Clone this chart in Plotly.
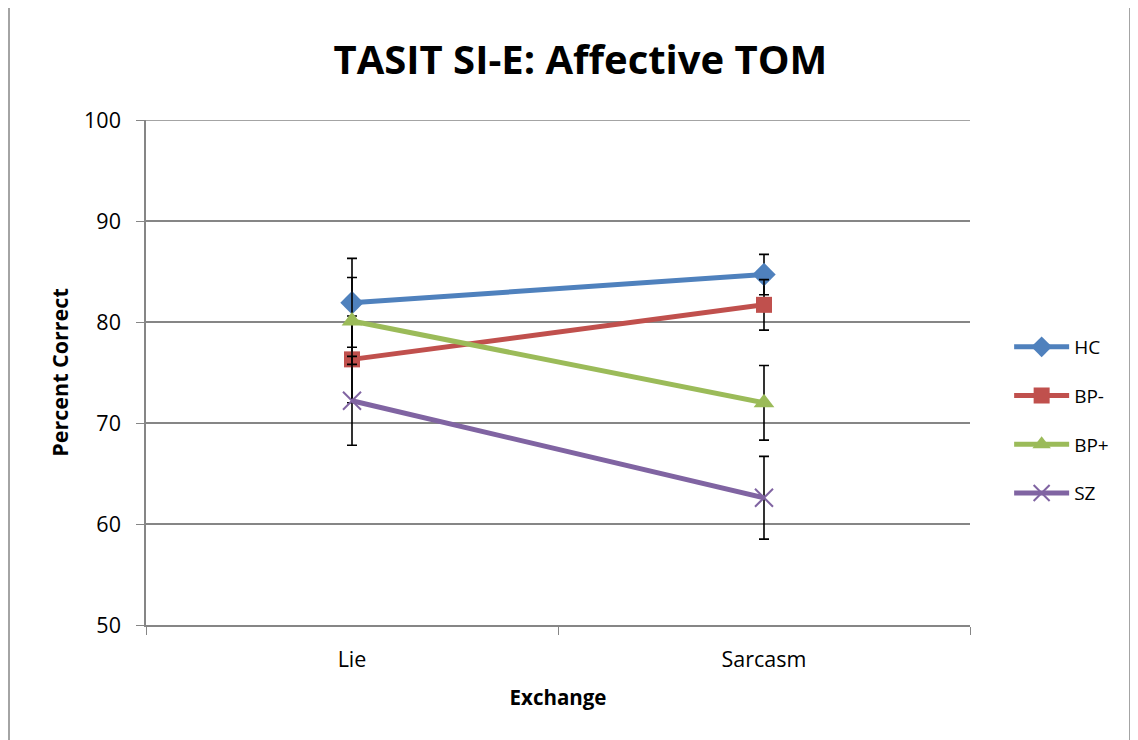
import plotly.graph_objects as go

categories = ["Lie", "Sarcasm"]
groups = ["HC", "BP-", "BP+", "SZ"]
hc = [81.9, 84.7]
bp_minus = [76.3, 81.7]
bp_plus = [80.1, 72.0]
sz = [72.2, 62.6]
hc_err = [4.4, 2.0]
bp_minus_err = [4.3, 2.5]
bp_plus_err = [4.3, 3.7]
sz_err = [4.4, 4.1]
y_ticks = [50, 60, 70, 80, 90, 100]

colors = ["#4F81BD", "#C0504D", "#9BBB59", "#8064A2"]
symbols = ["diamond", "square", "triangle-up", "x-thin"]
values = [hc, bp_minus, bp_plus, sz]
errors = [hc_err, bp_minus_err, bp_plus_err, sz_err]
sizes = [18, 16, 18, 18]

font = "Open Sans"
grid = "#868686"
fig = go.Figure()
for name, vals, errs, col, sym, sz_ in zip(groups, values, errors, colors, symbols, sizes):
    marker = dict(symbol=sym, size=sz_, color=col)
    if sym == "x-thin":
        marker["line"] = dict(color=col, width=2)
    fig.add_trace(go.Scatter(
        x=categories, y=vals, name=name, mode="lines+markers",
        legendgroup=name,
        line=dict(color=col, width=5),
        marker=marker,
        error_y=dict(type="data", array=errs, visible=True, color="black",
                     thickness=1.6, width=5),
    ))

fig.update_layout(
    width=1138, height=740,
    paper_bgcolor="white", plot_bgcolor="white",
    margin=dict(l=138, r=176, t=112, b=123, autoexpand=False),
    title=dict(text="<b>TASIT SI-E: Affective TOM</b>", x=0.503, xanchor="center",
               y=0.93, yanchor="middle", font=dict(family=font, size=40, color="black")),
    font=dict(family=font, color="black"),
    legend=dict(x=1.0475, xanchor="left", y=0.406, yanchor="middle",
                font=dict(family=font, size=19, color="black"),
                itemwidth=55, tracegroupgap=21, bgcolor="rgba(0,0,0,0)"),
    showlegend=True,
)
fig.update_xaxes(
    type="category", range=[-0.5, len(categories) - 0.5], tickson="boundaries",
    ticks="outside", ticklen=8, ticklabelstandoff=14,
    tickcolor=grid, showline=True, linecolor=grid, linewidth=1.5,
    showgrid=False, tickfont=dict(family=font, size=21.5, color="black"),
    title=dict(text="<b>Exchange</b>", font=dict(family=font, size=20.5, color="black"), standoff=19),
)
fig.update_yaxes(
    range=[50, 100], tickvals=y_ticks, ticks="outside", ticklen=8, ticklabelstandoff=11,
    tickcolor=grid, showline=True, linecolor=grid, linewidth=1.5,
    showgrid=True, gridcolor=grid, gridwidth=1.5, zeroline=False,
    tickfont=dict(family=font, size=21.5, color="black"),
    title=dict(text="<b>Percent Correct</b>", font=dict(family=font, size=21.5, color="black"), standoff=10),
)
# top gridline (Plotly skips a gridline on the range edge)
fig.add_shape(type="line", xref="paper", yref="y", x0=0, x1=1, y0=y_ticks[-1], y1=y_ticks[-1],
              line=dict(color=grid, width=1.5), layer="below")
# chart-area frame
fig.add_shape(type="rect", xref="paper", yref="paper",
              x0=-137/824, x1=(1130-146)/824, y0=-0.3, y1=1.5,
              line=dict(color=grid, width=1.5), fillcolor="rgba(0,0,0,0)", layer="below")

fig.write_html("out.html")
